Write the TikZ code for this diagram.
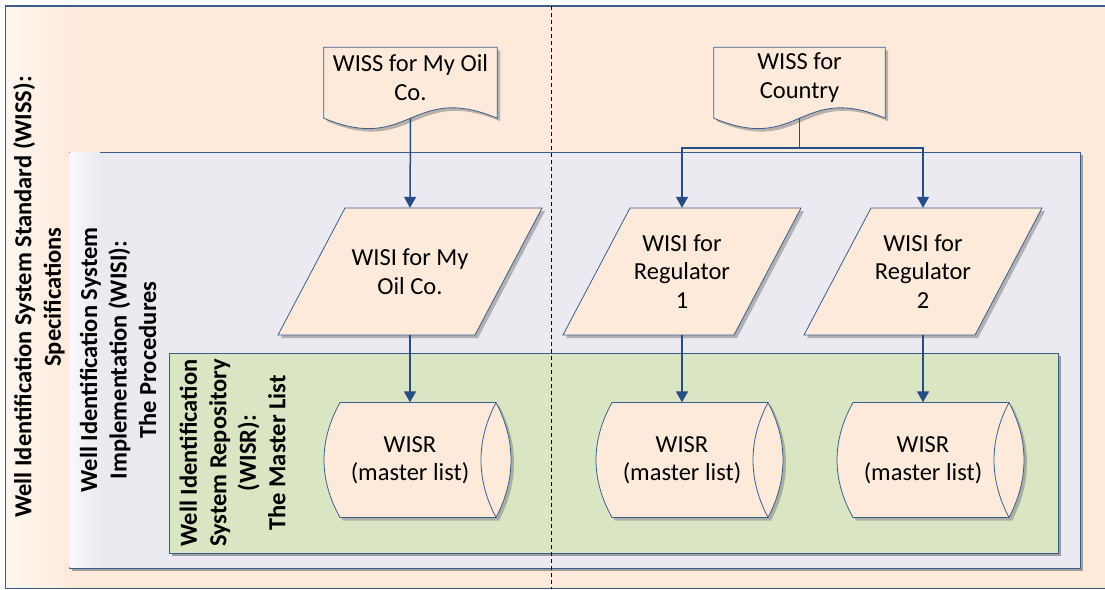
\documentclass[tikz,border=0pt]{standalone}
\usepackage{fontspec}
\setmainfont{Carlito}
\usetikzlibrary{shadows,arrows.meta}
\definecolor{peach}{HTML}{FDEADA}
\definecolor{lav}{HTML}{ECEAF1}
\definecolor{grn}{HTML}{DAE5C3}
\definecolor{edgec}{HTML}{3B5E8C}
\definecolor{arrc}{HTML}{264E84}
\definecolor{shd}{HTML}{8A8A8A}
\pgfdeclarelayer{boxes}
\pgfdeclarelayer{shapes}
\pgfsetlayers{boxes,shapes,main}
\newcommand\docshape[1]{%
  \draw[shp] (#1.north west) -- (#1.north east) -- ([yshift=-10.5pt]#1.south east)
    .. controls +(-86,-36) and +(86,36) .. ([yshift=-10.5pt]#1.south west) -- cycle;}
\newcommand\parashape[3]{% node, half width, half slant
  \draw[shp] ([shift={(-#2+#3,-63.5)}]#1.center) -- ([shift={(#2+#3,-63.5)}]#1.center)
    -- ([shift={(#2-#3,63.5)}]#1.center) -- ([shift={(-#2-#3,63.5)}]#1.center) -- cycle;}
\newcommand\drumshape[1]{%
  \draw[shp] ([shift={(-70,-57.5)}]#1.center) -- ([shift={(86,-57.5)}]#1.center)
    .. controls ([shift={(106,-19.2)}]#1.center) and ([shift={(106,19.2)}]#1.center) .. ([shift={(86,57.5)}]#1.center)
    -- ([shift={(-70,57.5)}]#1.center)
    .. controls ([shift={(-91.3,19.2)}]#1.center) and ([shift={(-91.3,-19.2)}]#1.center) .. ([shift={(-70,-57.5)}]#1.center) -- cycle;
  \draw[draw=edgec, line width=0.8pt] ([shift={(86,-57.5)}]#1.center)
    .. controls ([shift={(66,-19.2)}]#1.center) and ([shift={(66,19.2)}]#1.center) .. ([shift={(86,57.5)}]#1.center);}
\begin{document}
\begin{tikzpicture}[x=1pt,y=-1pt,
  shp/.style={draw=edgec, line width=0.8pt, fill=peach,
    drop shadow={shadow xshift=3pt, shadow yshift=-3pt, fill=shd, opacity=0.6}},
  boxst/.style={draw=edgec, line width=0.9pt,
    drop shadow={shadow xshift=3pt, shadow yshift=-3pt, fill=shd, opacity=0.8}},
  txt/.style={inner sep=0pt, align=center, font=\fontsize{24.5}{28.5}\selectfont},
  lbl/.style={inner sep=0pt, align=center, rotate=90, font=\bfseries\fontsize{24.5}{29.5}\selectfont},
  arr/.style={draw=arrc, line width=1.5pt, -{Triangle[length=11pt,width=12pt]}},
  conn/.style={draw=arrc, line width=1.5pt}
]
\useasboundingbox (0,0) rectangle (1105,589);
\begin{pgfonlayer}{boxes}
\fill[white] (0,0) rectangle (1105,589);
\fill[peach] (5,6) rectangle (1105,588);
\shade[left color=peach!40!white, right color=peach] (5,6) rectangle (75,588);
\draw[draw=edgec, line width=1.6pt] (1105,6) -- (5,6);
\draw[draw=edgec, line width=1pt] (5,6) -- (5,588) -- (1105,588);
% WISI box
\draw[boxst, fill=lav] (69,152) rectangle (1080,568);
\shade[left color=lav!35!white, right color=lav] (69.5,152.5) rectangle (100,567.5);
% WISR box
\draw[boxst, fill=grn] (169,353) rectangle (1058,553);
\coordinate (dtop) at (551,6);
\coordinate (dbot) at (551,589);
\draw[black, line width=0.8pt, dash pattern=on 4pt off 3pt] (dtop) -- (dbot);
\end{pgfonlayer}

\node[lbl] (lblS) at (39,297) {Well Identification System Standard (WISS):\\Specifications};
\node[lbl] (lblI) at (118,360) {Well Identification System\\Implementation (WISI):\\The Procedures};
\node[lbl] (lblR) at (232.5,453) {Well Identification\\System Repository\\(WISR):\\The Master List};

% documents
\node[txt, minimum width=173pt, minimum height=60pt] (wissA) at (410.5,77.5) {WISS for My Oil\\Co.};
\node[txt, minimum width=171pt, minimum height=60pt] (wissB) at (799.5,77.5) {WISS for\\Country};
% parallelograms
\node[txt, minimum height=127pt] (wisiA) at (410,271.5) {WISI for My\\Oil Co.};
\node[txt, minimum height=127pt] (wisiB) at (682,271.5) {WISI for\\Regulator\\1};
\node[txt, minimum height=127pt] (wisiC) at (923,271.5) {WISI for\\Regulator\\2};
% drums
\node[txt, minimum height=115pt] (wisrA) at (410,460) {WISR\\(master list)};
\node[txt, minimum height=115pt] (wisrB) at (682,460) {WISR\\(master list)};
\node[txt, minimum height=115pt] (wisrC) at (923,460) {WISR\\(master list)};

\begin{pgfonlayer}{shapes}
\docshape{wissA}
\docshape{wissB}
\parashape{wisiA}{98.5}{33.5}
\parashape{wisiB}{85.5}{33.5}
\parashape{wisiC}{85.5}{33.5}
\drumshape{wisrA}
\drumshape{wisrB}
\drumshape{wisrC}
\end{pgfonlayer}

% connectors
\coordinate (split) at (799.5,148);
\draw[arr] ([yshift=-10.5pt]wissA.south) -- (wisiA.north);
\draw[conn] ([yshift=-10.5pt]wissB.south) -- (split);
\draw[arr] (split) -| (wisiB.north);
\draw[arr] (split) -| (wisiC.north);
\draw[arr] (wisiA.south) -- (wisrA.north);
\draw[arr] (wisiB.south) -- (wisrB.north);
\draw[arr] (wisiC.south) -- (wisrC.north);
\end{tikzpicture}
\end{document}
